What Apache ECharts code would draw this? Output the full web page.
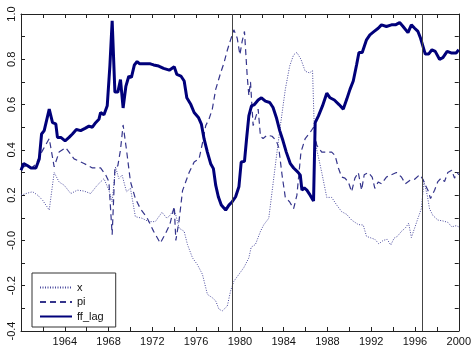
<!DOCTYPE html>
<html>
<head>
<meta charset="utf-8">
<style>
  html, body { margin: 0; padding: 0; background: #fff; }
  #chart { width: 474px; height: 347px; }
</style>
<script src="https://cdn.jsdelivr.net/npm/echarts@6/dist/echarts.min.js"></script>
</head>
<body>
<div id="chart"></div>
<script>
// [year, value] pairs
const xGap = [
  [1960.0, 0.20], [1960.45, 0.207], [1961.06, 0.215], [1961.52, 0.20], [1961.97, 0.178],
  [1962.58, 0.134], [1963.03, 0.30], [1963.48, 0.258], [1963.94, 0.244], [1964.55, 0.207],
  [1965.15, 0.222], [1965.76, 0.218], [1966.36, 0.207], [1966.97, 0.244], [1967.58, 0.273],
  [1968.03, 0.222], [1968.33, 0.17], [1968.64, 0.324], [1968.94, 0.273], [1969.24, 0.288],
  [1969.64, 0.215], [1970.0, 0.23], [1970.45, 0.105], [1971.06, 0.098], [1971.67, 0.083],
  [1972.27, 0.083], [1972.88, 0.124], [1973.33, 0.098], [1973.6, 0.11], [1974.0, 0.14],
  [1974.45, 0.054], [1974.91, 0.04], [1975.21, -0.018], [1975.67, -0.077], [1976.12, -0.107],
  [1976.58, -0.15], [1977.03, -0.238], [1977.48, -0.253], [1977.79, -0.267], [1978.09, -0.304],
  [1978.39, -0.311], [1978.85, -0.29], [1979.15, -0.223], [1979.45, -0.18], [1979.91, -0.15],
  [1980.36, -0.12], [1980.82, -0.077], [1981.03, -0.03], [1981.42, -0.018], [1981.88, 0.04],
  [1982.18, 0.069], [1982.64, 0.098], [1982.94, 0.215], [1983.39, 0.39], [1983.7, 0.507],
  [1984.15, 0.667], [1984.55, 0.77], [1984.91, 0.82], [1985.21, 0.83], [1985.58, 0.80],
  [1985.97, 0.747], [1986.36, 0.74], [1986.64, 0.75], [1986.8, 0.49], [1987.03, 0.40],
  [1987.48, 0.30], [1987.94, 0.19], [1988.39, 0.19], [1988.85, 0.156], [1989.3, 0.127],
  [1989.76, 0.115], [1990.21, 0.09], [1990.82, 0.07], [1991.27, 0.068], [1991.57, 0.018],
  [1992.03, 0.01], [1992.33, 0.005], [1992.7, -0.015], [1993.09, 0.0], [1993.45, 0.005],
  [1993.79, -0.02], [1994.09, 0.01], [1994.39, 0.018], [1994.76, 0.04], [1995.12, 0.055],
  [1995.42, 0.076], [1995.67, 0.013], [1995.97, 0.055], [1996.27, 0.098], [1996.58, 0.14],
  [1996.82, 0.26], [1997.12, 0.20], [1997.33, 0.14], [1997.64, 0.11], [1998.09, 0.09],
  [1998.55, 0.086], [1999.0, 0.08], [1999.36, 0.06], [1999.76, 0.065], [2000.0, 0.06]
];

const piInfl = [
  [1960.0, 0.32], [1960.5, 0.33], [1961.0, 0.32], [1961.4, 0.34], [1961.67, 0.37],
  [1962.0, 0.40], [1962.58, 0.45], [1963.03, 0.325], [1963.48, 0.39], [1964.09, 0.41],
  [1964.85, 0.36], [1965.76, 0.34], [1966.52, 0.32], [1967.27, 0.32], [1967.73, 0.29],
  [1968.03, 0.26], [1968.33, 0.025], [1968.58, 0.32], [1968.85, 0.33], [1969.09, 0.40],
  [1969.33, 0.51], [1969.64, 0.40], [1970.0, 0.26], [1970.45, 0.185], [1970.91, 0.14],
  [1971.52, 0.10], [1972.12, 0.04], [1972.73, -0.012], [1973.2, 0.03], [1973.6, 0.07],
  [1974.0, 0.15], [1974.15, 0.0], [1974.45, 0.09], [1974.76, 0.22], [1975.06, 0.26],
  [1975.36, 0.30], [1975.82, 0.346], [1976.27, 0.36], [1976.58, 0.43], [1976.88, 0.507],
  [1977.18, 0.536], [1977.48, 0.58], [1977.79, 0.667], [1978.24, 0.74], [1978.55, 0.784],
  [1978.85, 0.84], [1979.15, 0.886], [1979.45, 0.93], [1979.76, 0.893], [1980.0, 0.82],
  [1980.21, 0.88], [1980.42, 0.923], [1980.67, 0.725], [1980.82, 0.64], [1980.97, 0.70],
  [1981.21, 0.507], [1981.42, 0.54], [1981.67, 0.58], [1981.88, 0.46], [1982.12, 0.45],
  [1982.48, 0.465], [1982.94, 0.46], [1983.33, 0.44], [1983.55, 0.41], [1983.85, 0.29],
  [1984.15, 0.19], [1984.55, 0.17], [1984.91, 0.14], [1985.21, 0.20], [1985.58, 0.39],
  [1985.97, 0.45], [1986.42, 0.477], [1986.73, 0.50], [1987.03, 0.42], [1987.48, 0.39],
  [1987.94, 0.39], [1988.39, 0.39], [1988.7, 0.375], [1989.0, 0.32], [1989.3, 0.28],
  [1989.6, 0.275], [1989.91, 0.258], [1990.21, 0.215], [1990.51, 0.275], [1990.82, 0.30],
  [1991.12, 0.222], [1991.36, 0.29], [1991.73, 0.30], [1992.09, 0.28], [1992.33, 0.23],
  [1992.64, 0.258], [1992.94, 0.25], [1993.39, 0.28], [1993.85, 0.29], [1994.3, 0.30],
  [1994.76, 0.28], [1995.12, 0.25], [1995.52, 0.265], [1995.97, 0.27], [1996.42, 0.29],
  [1996.73, 0.27], [1996.94, 0.245], [1997.18, 0.222], [1997.42, 0.185], [1997.79, 0.222],
  [1998.09, 0.26], [1998.39, 0.275], [1998.7, 0.26], [1999.0, 0.30], [1999.36, 0.31],
  [1999.61, 0.275], [1999.85, 0.30], [2000.0, 0.29]
];

const ffLag = [
  [1960.0, 0.31], [1960.24, 0.34], [1960.61, 0.33], [1960.91, 0.32], [1961.36, 0.32],
  [1961.67, 0.36], [1961.88, 0.47], [1962.12, 0.485], [1962.58, 0.58], [1962.88, 0.52],
  [1963.18, 0.515], [1963.33, 0.455], [1963.64, 0.455], [1964.03, 0.44], [1964.39, 0.455],
  [1964.70, 0.47], [1965.06, 0.49], [1965.45, 0.485], [1965.85, 0.495], [1966.21, 0.505],
  [1966.52, 0.50], [1966.82, 0.52], [1967.12, 0.535], [1967.27, 0.565], [1967.58, 0.555],
  [1967.88, 0.595], [1968.12, 0.77], [1968.33, 0.97], [1968.58, 0.655], [1968.85, 0.655],
  [1969.09, 0.71], [1969.33, 0.585], [1969.58, 0.68], [1969.85, 0.725], [1970.09, 0.72],
  [1970.36, 0.775], [1970.61, 0.79], [1970.85, 0.78], [1971.36, 0.78], [1971.82, 0.78],
  [1972.12, 0.775], [1972.58, 0.77], [1973.03, 0.76], [1973.55, 0.752], [1974.0, 0.767],
  [1974.24, 0.733], [1974.61, 0.726], [1974.91, 0.704], [1975.15, 0.63], [1975.52, 0.60],
  [1975.82, 0.565], [1976.21, 0.543], [1976.48, 0.514], [1976.73, 0.448], [1977.03, 0.39],
  [1977.33, 0.339], [1977.58, 0.317], [1977.79, 0.244], [1978.03, 0.193], [1978.30, 0.156],
  [1978.70, 0.134], [1979.0, 0.156], [1979.30, 0.171], [1979.61, 0.193], [1979.91, 0.237],
  [1980.12, 0.346], [1980.42, 0.349], [1980.61, 0.448], [1980.82, 0.55], [1981.06, 0.594],
  [1981.33, 0.60], [1981.67, 0.62], [1981.97, 0.63], [1982.33, 0.615], [1982.73, 0.609],
  [1983.03, 0.587], [1983.33, 0.543], [1983.64, 0.485], [1983.94, 0.44], [1984.24, 0.39],
  [1984.61, 0.339], [1984.91, 0.32], [1985.30, 0.302], [1985.52, 0.288], [1985.67, 0.222],
  [1985.88, 0.232], [1986.12, 0.222], [1986.42, 0.20], [1986.73, 0.174], [1986.88, 0.52],
  [1987.18, 0.55], [1987.55, 0.594], [1987.94, 0.65], [1988.24, 0.63], [1988.63, 0.62],
  [1989.06, 0.60], [1989.45, 0.58], [1989.76, 0.623], [1990.06, 0.667], [1990.36, 0.704],
  [1990.67, 0.777], [1990.88, 0.83], [1991.18, 0.83], [1991.57, 0.886], [1991.88, 0.908],
  [1992.27, 0.923], [1992.64, 0.937], [1992.94, 0.952], [1993.39, 0.945], [1993.85, 0.952],
  [1994.21, 0.952], [1994.6, 0.962], [1994.91, 0.945], [1995.36, 0.918], [1995.67, 0.952],
  [1995.97, 0.937], [1996.27, 0.923], [1996.51, 0.893], [1996.73, 0.857], [1996.94, 0.823],
  [1997.24, 0.823], [1997.55, 0.842], [1997.85, 0.835], [1998.24, 0.80], [1998.55, 0.807],
  [1998.94, 0.835], [1999.3, 0.828], [1999.76, 0.828], [2000.0, 0.842]
];

const seriesNames = ['x', 'pi', 'ff_lag'];
const breakYears = [1979.3, 1996.7];   // vertical reference lines

const frameColor = '#222';
const font = 'Liberation Sans, Arial, sans-serif';

const chart = echarts.init(document.getElementById('chart'), null, { renderer: 'canvas' });

const option = {
    animation: false,
    backgroundColor: '#fff',
    grid: { left: 21, right: 13, top: 14, bottom: 14 },
    legend: {
        orient: 'vertical',
        left: 32,
        top: 273,
        data: seriesNames,
        itemWidth: 32,
        itemHeight: 10,
        itemGap: 3.5,
        padding: [9, 12, 5, 7],
        borderColor: '#333',
        borderWidth: 1,
        backgroundColor: '#fff',
        // hide the symbol in the legend sample, keep only the line
        itemStyle: { color: 'rgba(0,0,0,0)', borderColor: 'rgba(0,0,0,0)', borderWidth: 0 },
        textStyle: { fontFamily: font, fontSize: 11, color: '#111' }
    },
    xAxis: [
        {
            type: 'value', min: 1960, max: 2000, interval: 2,
            axisLine: { show: true, onZero: false, lineStyle: { color: frameColor, width: 1 } },
            axisTick: { inside: true, length: 4, lineStyle: { color: frameColor } },
            axisLabel: {
                margin: 5,
                fontFamily: font, fontSize: 11, color: '#111',
                formatter: v => (v % 4 === 0 && v !== 1960) ? String(v) : ''
            },
            splitLine: { show: false }
        },
        {
            type: 'value', min: 1960, max: 2000, interval: 2, position: 'top',
            axisLine: { show: true, onZero: false, lineStyle: { color: frameColor, width: 1 } },
            axisTick: { inside: true, length: 4, lineStyle: { color: frameColor } },
            axisLabel: { show: false },
            splitLine: { show: false }
        }
    ],
    yAxis: [
        {
            type: 'value', min: -0.4, max: 1.0, interval: 0.1,
            axisLine: { show: true, onZero: false, lineStyle: { color: frameColor, width: 1 } },
            axisTick: { inside: true, length: 4, lineStyle: { color: frameColor } },
            axisLabel: {
                rotate: 90,
                margin: 4,
                fontFamily: font, fontSize: 11, color: '#111',
                formatter: v => {
                    const k = Math.round(v * 10);
                    if (k % 2 !== 0) return '';
                    if (k === 0) return '-0.0';
                    return (k < 0 ? '-' : '') + (Math.abs(k) / 10).toFixed(1);
                }
            },
            splitLine: { show: false }
        },
        {
            type: 'value', min: -0.4, max: 1.0, interval: 0.1, position: 'right',
            axisLine: { show: true, onZero: false, lineStyle: { color: frameColor, width: 1 } },
            axisTick: { inside: true, length: 4, lineStyle: { color: frameColor } },
            axisLabel: { show: false },
            splitLine: { show: false }
        }
    ],
    series: [
        {
            name: 'x', type: 'line', data: xGap, symbol: 'none',
            lineStyle: { color: '#4a4a9e', width: 1, type: [1, 1.5] },
            itemStyle: { color: '#4a4a9e' }
        },
        {
            name: 'pi', type: 'line', data: piInfl, symbol: 'none',
            lineStyle: { color: '#35358c', width: 1.2, type: [6, 4] },
            itemStyle: { color: '#35358c' }
        },
        {
            name: 'ff_lag', type: 'line', data: ffLag, symbol: 'none',
            lineStyle: { color: '#00007a', width: 3 },
            itemStyle: { color: '#00007a' },
            markLine: {
                silent: true,
                symbol: 'none',
                label: { show: false },
                lineStyle: { color: '#444', width: 1, type: 'solid' },
                data: breakYears.map(y => ({ xAxis: y }))
            },
            z: 3
        }
    ]
};

chart.setOption(option);
</script>
</body>
</html>
